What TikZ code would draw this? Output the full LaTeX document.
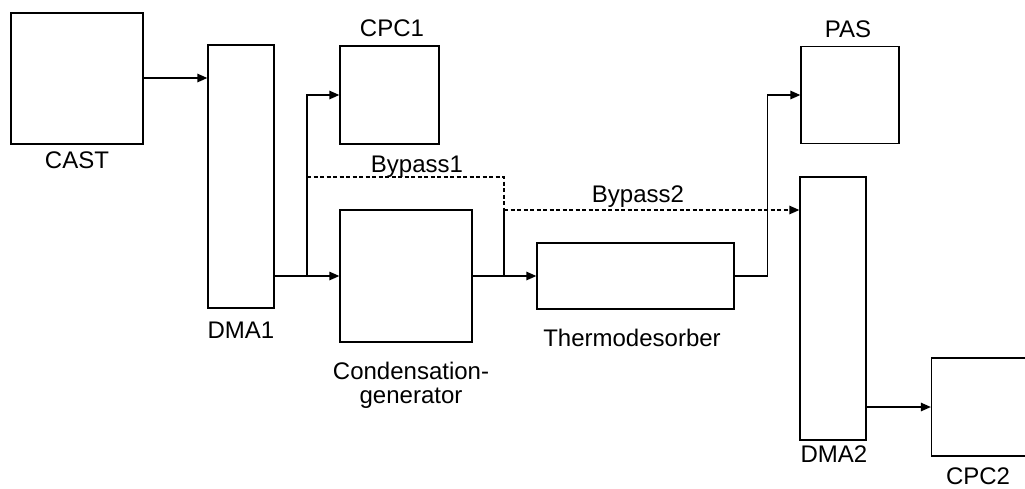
\documentclass[tikz,border=0pt]{standalone}
\usepackage{fontspec}
\setmainfont{Liberation Sans}
\usetikzlibrary{arrows.meta}

\begin{document}
\begin{tikzpicture}[x=1pt,y=-1pt,
  unit/.style={draw,line width=1.3pt,inner sep=0pt},
  lbl/.style={anchor=base,inner sep=0pt,font=\fontsize{24}{24}\selectfont},
  flow/.style={line width=1.3pt,-{Triangle[length=10pt,width=8.5pt]}},
  pipe/.style={line width=1.3pt},
  bypass/.style={line width=1.3pt,dash pattern=on 4pt off 2.5pt}]
  \useasboundingbox (0,0) rectangle (1025,488);
  % Instrument boxes: name/x/y/width/height.
  \foreach \n/\x/\y/\w/\h in {cast/77/78.5/132/131, dma1/241/176.5/66/263,
      cpc1/389.5/95/99/98, cond/406/276/132/132, thermo/635.5/276/197/66,
      pas/850/95/98/97, dma2/833/308.5/66/263, cpc2/981/407/99/98}
    \node[unit,minimum width=\w pt,minimum height=\h pt] (\n) at (\x,\y) {};
  % Labels.
  \node[lbl] (lcast) at (77,168) {CAST};
  \node[lbl] (ldma1) at (241,338) {DMA1};
  \node[lbl] (lcpc1) at (392,36) {CPC1};
  \node[lbl] (lpas) at (848,37) {PAS};
  \node[lbl] (ldma2) at (834,462) {DMA2};
  \node[lbl] (lcpc2) at (978,484) {CPC2};
  \node[lbl] (lthermo) at (632,346) {Thermodesorber};
  \node[lbl] (lbyp1) at (417,172) {Bypass1};
  \node[lbl] (lbyp2) at (638,202) {Bypass2};
  \node[lbl,anchor=north,align=center] (lcond) at (411,362)
    {Condensation-\\generator};

  % Sample flow.
  \coordinate (b1) at (307,276);
  \coordinate (s1) at (307,177);
  \coordinate (b2) at (504,276);
  \coordinate (j2) at (504,210);
  \draw[flow] (cast.east |- 0,78) -- (dma1.west |- 0,78);
  \draw[flow] (dma1.east |- cond) -- (cond.west);
  \draw[flow] (b1) |- (cpc1.west);
  \draw[flow] (cond.east) -- (thermo.west);
  \draw[flow] (thermo.east) -- ++(33,0) |- (pas.west);
  \draw[flow] (dma2.east |- cpc2) -- (cpc2.west);
  % Bypass lines.
  \draw[bypass] (s1) -| (j2);
  \draw[pipe] (b2) -- (j2);
  \draw[bypass,-{Triangle[length=10pt,width=8.5pt]}] (j2) -- (j2 -| dma2.west);
\end{tikzpicture}
\end{document}
